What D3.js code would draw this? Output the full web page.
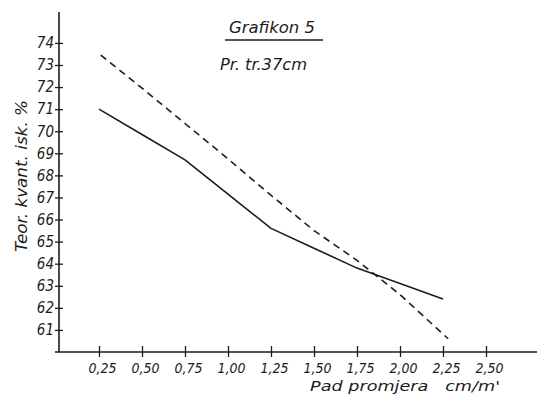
<!DOCTYPE html>
<html>
<head>
<meta charset="utf-8">
<script src="https://cdn.jsdelivr.net/npm/d3@7"></script>
<style>
  html, body { margin: 0; padding: 0; background: #ffffff; }
  svg { display: block; }
</style>
</head>
<body>
<svg id="chart"></svg>
<script>
const W = 537;
const H = 397;

// values
const xTicks = [0.25, 0.5, 0.75, 1.0, 1.25, 1.5, 1.75, 2.0, 2.25, 2.5];
const yTicks = [61, 62, 63, 64, 65, 66, 67, 68, 69, 70, 71, 72, 73, 74];

const solidX = [0.25, 0.5, 0.75, 1.0, 1.25, 1.5, 1.75, 2.0, 2.25];
const solidY = [71.0, 69.85, 68.7, 67.15, 65.6, 64.7, 63.8, 63.1, 62.4];

const dashX = [0.26, 0.5, 0.75, 1.0, 1.25, 1.5, 1.75, 2.0, 2.28];
const dashY = [73.45, 71.95, 70.35, 68.75, 67.1, 65.5, 64.15, 62.6, 60.6];

const FONT = '"DejaVu Sans Condensed", "Liberation Sans Narrow", sans-serif';
const INK = '#1c1c1c';

const svg = d3.select('#chart')
  .attr('width', W)
  .attr('height', H)
  .attr('viewBox', `0 0 ${W} ${H}`);

svg.append('rect')
  .attr('width', W)
  .attr('height', H)
  .attr('fill', '#ffffff');

const x = d3.scaleLinear().domain([0, 2.8]).range([56, 537.6]);
const y = d3.scaleLinear().domain([60, 75.4]).range([352, 12]);

const fmt = (d) => d.toFixed(2).replace('.', ',');

// x axis
const xAxis = svg.append('g')
  .attr('transform', `translate(0, ${y(60)})`)
  .call(d3.axisBottom(x).tickValues(xTicks).tickFormat(fmt).tickSize(5).tickSizeOuter(0));

xAxis.select('.domain')
  .attr('d', `M55,0H${W}`)
  .attr('stroke', INK)
  .attr('stroke-width', 1.6);

xAxis.selectAll('.tick line')
  .attr('y1', -6)
  .attr('y2', 5)
  .attr('stroke', INK)
  .attr('stroke-width', 1.3);

xAxis.selectAll('.tick text')
  .attr('y', 11)
  .attr('dx', 3)
  .attr('fill', INK)
  .attr('font-size', 14)
  .attr('font-style', 'italic')
  .attr('font-family', FONT);

// y axis
const yAxis = svg.append('g')
  .attr('transform', `translate(59, 0)`)
  .call(d3.axisLeft(y).tickValues(yTicks).tickFormat(d3.format('d')).tickSize(4).tickSizeOuter(0));

yAxis.select('.domain')
  .attr('d', `M0,12V${y(60)}`)
  .attr('stroke', INK)
  .attr('stroke-width', 1.6);

yAxis.selectAll('.tick line')
  .attr('x1', -4)
  .attr('x2', 4)
  .attr('stroke', INK)
  .attr('stroke-width', 1.3);

yAxis.selectAll('.tick text')
  .attr('x', -5)
  .attr('fill', INK)
  .attr('font-size', 15)
  .attr('font-style', 'italic')
  .attr('font-family', FONT);

svg.selectAll('.domain').attr('fill', 'none');

// curves
const line = d3.line()
  .x((d) => x(d[0]))
  .y((d) => y(d[1]));

svg.append('path')
  .datum(solidX.map((v, i) => [v, solidY[i]]))
  .attr('d', line)
  .attr('fill', 'none')
  .attr('stroke', INK)
  .attr('stroke-width', 1.6)
  .attr('stroke-linejoin', 'round');

svg.append('path')
  .datum(dashX.map((v, i) => [v, dashY[i]]))
  .attr('d', line)
  .attr('fill', 'none')
  .attr('stroke', INK)
  .attr('stroke-width', 1.6)
  .attr('stroke-dasharray', '7,5');

// titles
svg.append('text')
  .attr('x', 272)
  .attr('y', 33)
  .attr('text-anchor', 'middle')
  .attr('fill', INK)
  .attr('font-size', 15)
  .attr('font-style', 'italic')
  .attr('font-family', FONT)
  .attr('textLength', 86)
  .attr('lengthAdjust', 'spacingAndGlyphs')
  .text('Grafikon 5');

svg.append('line')
  .attr('x1', 225)
  .attr('x2', 323)
  .attr('y1', 40)
  .attr('y2', 40)
  .attr('stroke', INK)
  .attr('stroke-width', 1.4);

svg.append('text')
  .attr('x', 220)
  .attr('y', 70)
  .attr('fill', INK)
  .attr('font-size', 15)
  .attr('font-style', 'italic')
  .attr('font-family', FONT)
  .attr('textLength', 87)
  .attr('lengthAdjust', 'spacingAndGlyphs')
  .text('Pr. tr.37cm');

svg.append('text')
  .attr('x', 310)
  .attr('y', 391)
  .attr('fill', INK)
  .attr('font-size', 14)
  .attr('font-style', 'italic')
  .attr('font-family', FONT)
  .attr('textLength', 190)
  .attr('lengthAdjust', 'spacingAndGlyphs')
  .attr('xml:space', 'preserve')
  .text("Pad promjera   cm/m'");

svg.append('text')
  .attr('transform', 'translate(27, 176) rotate(-90)')
  .attr('text-anchor', 'middle')
  .attr('fill', INK)
  .attr('font-size', 15)
  .attr('font-style', 'italic')
  .attr('font-family', FONT)
  .attr('textLength', 152)
  .attr('lengthAdjust', 'spacingAndGlyphs')
  .text('Teor. kvant. isk. %');
</script>
</body>
</html>
